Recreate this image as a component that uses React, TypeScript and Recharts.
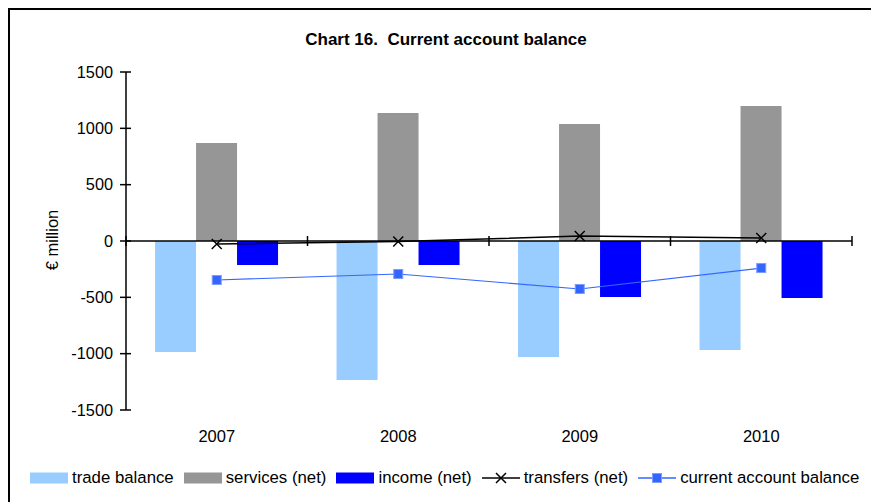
import React from "react";
import { ComposedChart, Bar, Line, XAxis, YAxis, ReferenceLine } from "recharts";

const years = ["2007", "2008", "2009", "2010"];
const tradeBalance = [-985, -1233, -1029, -967];
const servicesNet = [870, 1136, 1038, 1198];
const incomeNet = [-213, -213, -497, -506];
const transfersNet = [-27, -5, 44, 27];
const currentAccount = [-346, -293, -426, -240];
const yTicks = [-1500, -1000, -500, 0, 500, 1000, 1500];

const FONT = "'Liberation Sans', Arial, Helvetica, sans-serif";
const TRADE = "#99ccff";
const SERVICES = "#969696";
const INCOME = "#0000ff";
const CURRENT = "#3366ff";

const data = years.map((year, i) => ({
  year,
  trade: tradeBalance[i],
  services: servicesNet[i],
  income: incomeNet[i],
  transfers: transfersNet[i],
  current: currentAccount[i],
}));

// y ticks cross the axis line
function YTick({ x, y, payload }: any) {
  const axisX = x + 13;
  return (
    <g>
      <line x1={axisX - 6} x2={axisX + 5} y1={y} y2={y} stroke="#000" strokeWidth={1.5} />
      <text x={x} y={y} dy={5.5} textAnchor="end" fontSize={16.3} fill="#000" fontFamily={FONT}>
        {payload.value}
      </text>
    </g>
  );
}

// zero line with tick marks between categories
function ZeroLine(props: any) {
  const { x1, x2, y1 } = props;
  const n = years.length;
  const step = (x2 - x1) / n;
  return (
    <g>
      <line x1={x1} x2={x2} y1={y1} y2={y1} stroke="#000" strokeWidth={1.5} />
      {Array.from({ length: n + 1 }, (_, i) => (
        <line key={i} x1={x1 + i * step} x2={x1 + i * step} y1={y1 - 5} y2={y1 + 5} stroke="#000" strokeWidth={1.5} />
      ))}
    </g>
  );
}

function CrossDot({ cx, cy }: any) {
  if (cx == null || cy == null) return null;
  const r = 5;
  return (
    <path
      d={`M${cx - r},${cy - r}L${cx + r},${cy + r}M${cx + r},${cy - r}L${cx - r},${cy + r}`}
      stroke="#000"
      strokeWidth={1.5}
      fill="none"
    />
  );
}

function SquareDot({ cx, cy }: any) {
  if (cx == null || cy == null) return null;
  return <rect x={cx - 4.5} y={cy - 4.5} width={9} height={9} fill={CURRENT} stroke="#7c9cff" strokeWidth={1} />;
}

function LegendItem({ kind, color, label }: { kind: "box" | "cross" | "square"; color: string; label: string }) {
  return (
    <div style={{ display: "flex", alignItems: "center", marginRight: 10 }}>
      <svg width={38} height={12} style={{ marginRight: 4 }}>
        {kind === "box" ? (
          <rect x={0} y={0.5} width={38} height={11} fill={color} />
        ) : (
          <>
            <line x1={0} x2={38} y1={6} y2={6} stroke={color} strokeWidth={1.5} />
            {kind === "cross" ? (
              <path d="M14,1L24,11M24,1L14,11" stroke={color} strokeWidth={1.5} />
            ) : (
              <rect x={14.5} y={1.5} width={9} height={9} fill={color} stroke="#7c9cff" />
            )}
          </>
        )}
      </svg>
      <span>{label}</span>
    </div>
  );
}

export default function App() {
  return (
    <div style={{ position: "relative", width: 871, height: 494, fontFamily: FONT, color: "#000", overflow: "hidden" }}>
      <div
        style={{
          position: "absolute",
          left: 0,
          top: 0,
          width: 862,
          height: 520,
          borderLeft: "2px solid #000",
          borderTop: "2px solid #000",
        }}
      />
      <div
        style={{
          position: "absolute",
          left: 0,
          top: 22,
          width: 876,
          textAlign: "center",
          fontWeight: "bold",
          fontSize: 17,
          lineHeight: "20px",
        }}
      >
        Chart 16.&nbsp; Current account balance
      </div>
      <div
        style={{
          position: "absolute",
          left: 44,
          top: 232,
          transform: "translate(-50%, -50%) rotate(-90deg)",
          fontSize: 16.5,
          whiteSpace: "nowrap",
        }}
      >
        € million
      </div>
      <div style={{ position: "absolute", left: 0, top: 0 }}>
        <ComposedChart
          width={862}
          height={494}
          data={data}
          margin={{ top: 64, right: 18, bottom: 62, left: 58 }}
          barCategoryGap="16%"
          barGap={0}
        >
          <XAxis
            dataKey="year"
            axisLine={false}
            tickLine={false}
            height={30}
            tickMargin={14}
            tick={{ fontSize: 16.5, fill: "#000", fontFamily: FONT }}
          />
          <YAxis
            domain={[-1500, 1500]}
            ticks={yTicks}
            interval={0}
            width={60}
            tickSize={0}
            tickMargin={13}
            tickLine={false}
            axisLine={{ stroke: "#000", strokeWidth: 1.5 }}
            tick={<YTick />}
          />
          <Bar dataKey="trade" fill={TRADE} isAnimationActive={false} />
          <Bar dataKey="services" fill={SERVICES} isAnimationActive={false} />
          <Bar dataKey="income" fill={INCOME} isAnimationActive={false} />
          <ReferenceLine y={0} shape={<ZeroLine />} />
          <Line
            dataKey="transfers"
            stroke="#000"
            strokeWidth={1.5}
            dot={<CrossDot />}
            activeDot={false}
            isAnimationActive={false}
          />
          <Line
            dataKey="current"
            stroke={CURRENT}
            strokeWidth={1.2}
            dot={<SquareDot />}
            activeDot={false}
            isAnimationActive={false}
          />
        </ComposedChart>
      </div>
      <div
        style={{
          position: "absolute",
          left: 22,
          top: 460,
          display: "flex",
          alignItems: "center",
          fontSize: 16.8,
          lineHeight: "20px",
          whiteSpace: "nowrap",
        }}
      >
        <LegendItem kind="box" color={TRADE} label="trade balance" />
        <LegendItem kind="box" color={SERVICES} label="services (net)" />
        <LegendItem kind="box" color={INCOME} label="income (net)" />
        <LegendItem kind="cross" color="#000" label="transfers (net)" />
        <LegendItem kind="square" color={CURRENT} label="current account balance" />
      </div>
    </div>
  );
}
